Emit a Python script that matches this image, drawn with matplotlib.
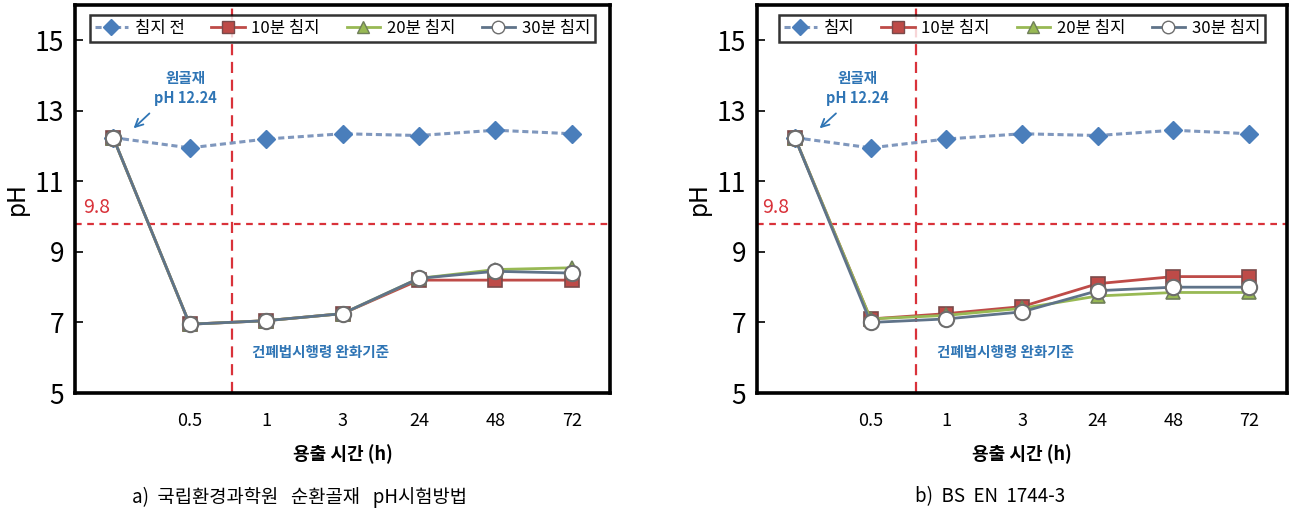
import matplotlib
matplotlib.use("Agg")
import matplotlib.pyplot as plt
from matplotlib.lines import Line2D

plt.rcParams['font.family'] = ['Noto Sans CJK KR', 'DejaVu Sans']

# ---------------- data ----------------
categories = ["", "0.5", "1", "3", "24", "48", "72"]

# panel a
a_before = [12.24, 11.95, 12.2, 12.35, 12.3, 12.45, 12.35]
a_10 = [12.24, 6.95, 7.05, 7.25, 8.2, 8.2, 8.2]
a_20 = [12.24, 6.95, 7.05, 7.25, 8.25, 8.5, 8.55]
a_30 = [12.24, 6.95, 7.05, 7.25, 8.25, 8.45, 8.4]

# panel b
b_before = [12.24, 11.95, 12.2, 12.35, 12.3, 12.45, 12.35]
b_10 = [12.24, 7.1, 7.25, 7.45, 8.1, 8.3, 8.3]
b_20 = [12.24, 7.1, 7.2, 7.4, 7.75, 7.85, 7.85]
b_30 = [12.24, 7.0, 7.1, 7.3, 7.9, 8.0, 8.0]

threshold = 9.8
a_labels = ["침지 전", "10분 침지", "20분 침지", "30분 침지"]
b_labels = ["침지", "10분 침지", "20분 침지", "30분 침지"]
yticks = [5, 7, 9, 11, 13, 15]
caption_a = "a)  국립환경과학원   순환골재   pH시험방법"
caption_b = "b)  BS  EN  1744-3"

# ---------------- styles ----------------
C_BLUE = "#4a7ebb"
C_DASH = "#7f97bd"
C_RED = "#be4b48"
C_GREEN = "#98b954"
C_GRAY = "#5f7389"
C_TXT = "#2f75b5"
C_THR = "#d9323a"
narrow = ['Liberation Sans Narrow', 'Noto Sans CJK KR', 'DejaVu Sans']

fig = plt.figure(figsize=(12.91, 5.14), dpi=100)
W, H = 1291, 514


def make_axes(l, r, t, b):
    return fig.add_axes([l / W, 1 - b / H, (r - l) / W, (b - t) / H])


def draw_panel(ax, before, s10, s20, s30, labels, vline_x, lbl98_x, note_x, arrow_xy, arrow_txt, crit_x, caption, cap_x):
    x = list(range(len(categories)))
    ax.plot(x, s10, color=C_RED, lw=2, marker='s', ms=10, mfc=C_RED, mec="#7a4a4a", mew=1.2, zorder=3)
    ax.plot(x, s20, color=C_GREEN, lw=2, marker='^', ms=10, mfc=C_GREEN, mec="#6f7f5a", mew=1.2, zorder=3)
    ax.plot(x, s30, color=C_GRAY, lw=2, marker='o', ms=11, mfc='white', mec="#6d6d6d", mew=1.5, zorder=4)
    ax.plot(x, before, color=C_DASH, lw=2.2, ls=(0, (2, 1.2)), marker='D', ms=9, mfc=C_BLUE, mec=C_BLUE, zorder=5)
    # re-draw initial shared point on top
    ax.plot(x[:1], s30[:1], ls='none', marker='o', ms=11, mfc='white', mec="#6d6d6d", mew=1.5, zorder=6)

    ax.axhline(threshold, color=C_THR, lw=1.6, ls=(0, (3, 2.5)), zorder=2)
    ax.axvline(vline_x, color=C_THR, lw=1.6, ls=(0, (5, 3)), zorder=2)

    ax.set_xlim(-0.5, len(categories) - 0.5)
    ax.set_ylim(5, 16)
    ax.set_yticks(yticks)
    ax.set_yticklabels([str(v) for v in yticks], family=narrow, fontsize=19)
    ax.set_xticks(x)
    ax.set_xticklabels(categories, family=narrow, fontsize=13)
    ax.tick_params(axis='y', direction='in', length=6, width=1.2, pad=8)
    ax.tick_params(axis='x', length=0, pad=14)
    for s in ax.spines.values():
        s.set_linewidth(2.6)
        s.set_color('black')

    ax.set_ylabel("pH", fontsize=17, family=['DejaVu Sans'], labelpad=4)
    ax.set_xlabel("용출 시간 (h)", fontsize=13, fontweight='bold', labelpad=10)

    ax.text(lbl98_x, threshold + 0.15, "9.8", color=C_THR, fontsize=14, family=narrow,
            ha='left', va='bottom')
    ax.text(note_x, 13.65, "원골재\npH 12.24", color=C_TXT, fontsize=10.5, fontweight='bold',
            ha='center', va='center', linespacing=1.3)
    ax.annotate("", xy=arrow_xy, xytext=arrow_txt,
                arrowprops=dict(arrowstyle='->', color=C_TXT, lw=1.3, mutation_scale=14))
    ax.text(crit_x, 6.15, "건폐법시행령 완화기준", color=C_TXT, fontsize=10.5, fontweight='bold',
            ha='left', va='center')

    handles = [
        Line2D([], [], color=C_DASH, lw=2.2, ls=(0, (2, 1.2)), marker='D', ms=8, mfc=C_BLUE, mec=C_BLUE),
        Line2D([], [], color=C_RED, lw=2, marker='s', ms=8, mfc=C_RED, mec="#7a4a4a"),
        Line2D([], [], color=C_GREEN, lw=2, marker='^', ms=8, mfc=C_GREEN, mec="#6f7f5a"),
        Line2D([], [], color=C_GRAY, lw=2, marker='o', ms=9, mfc='white', mec="#6d6d6d"),
    ]
    leg = ax.legend(handles, labels, loc='upper center', bbox_to_anchor=(0.5, 0.975), ncol=4,
                    fontsize=12, frameon=True, fancybox=False, edgecolor='black',
                    handlelength=2.0, columnspacing=1.6, handletextpad=0.4, borderpad=0.3,
                    borderaxespad=0.0)
    leg.get_frame().set_linewidth(1.8)

    fig.text(cap_x / W, 1 - 497 / H, caption, fontsize=13.5, ha='center', va='center')


axa = make_axes(75, 610, 5, 393)
draw_panel(axa, a_before, a_10, a_20, a_30, a_labels, 1.56, -0.4, 0.94,
           (0.24, 12.45), (0.5, 12.98), 1.82, caption_a, 300)

axb = make_axes(757, 1287, 5, 393)
draw_panel(axb, b_before, b_10, b_20, b_30, b_labels, 1.6, -0.43, 0.83,
           (0.3, 12.45), (0.57, 12.98), 1.88, caption_b, 990)

fig.savefig("out.png", dpi=100)
